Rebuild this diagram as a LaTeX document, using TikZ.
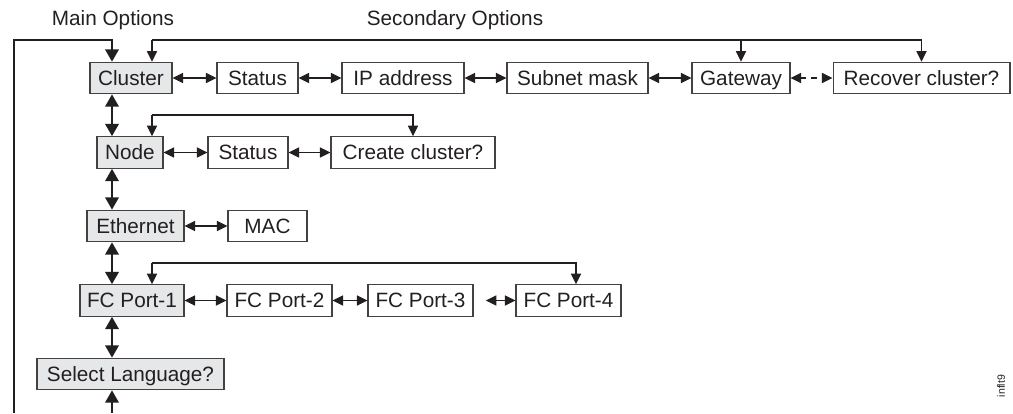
\documentclass[tikz,border=0pt]{standalone}
\usepackage{fontspec}
\setmainfont{Liberation Sans}
\usetikzlibrary{arrows.meta}
\definecolor{ink}{HTML}{231F20}
\definecolor{boxgray}{HTML}{E6E7E8}
\begin{document}
\begin{tikzpicture}[
x=0.02cm, y=-0.02cm,
every node/.style={text=ink, font=\fontsize{11.8}{13}\selectfont},
box/.style={
draw=ink!85,
line width=0.6pt,
minimum height=0.63cm,
text height=8.4pt,
text depth=0pt,
inner sep=0pt
},
mainbox/.style={box, fill=boxgray},
harrow/.style={{Triangle[length=6pt,width=5.8pt]}-{Triangle[length=6pt,width=5.8pt]}, line width=0.6pt, draw=ink},
varrow/.style={{Triangle[length=7pt,width=7.5pt]}-{Triangle[length=7pt,width=7.5pt]}, line width=1.5pt, draw=ink},
link/.style={-{Triangle[length=6pt,width=5.8pt]}, line width=0.6pt, draw=ink},
loop/.style={-{Triangle[length=7pt,width=7.5pt]}, line width=1.5pt, draw=ink}
]
\useasboundingbox (0,0) rectangle (1013,413);
\node (mainlbl) at (113,20) {Main Options};
\node (seclbl) at (455,20) {Secondary Options};
% main options
\node[mainbox,minimum width=1.64cm] (cluster) at (131,78) {Cluster};
\node[mainbox,minimum width=1.32cm] (node) at (130,152.5) {Node};
\node[mainbox,minimum width=1.94cm] (ethernet) at (135.5,226) {Ethernet};
\node[mainbox,minimum width=2.08cm] (fc1) at (132,300.5) {FC Port-1};
\node[mainbox,minimum width=3.74cm] (select) at (130.5,374) {Select Language?};
% secondary options
\node[box,minimum width=1.62cm] (status1) at (257.5,78) {Status};
\node[box,minimum width=2.44cm] (ipaddr) at (403,78) {IP address};
\node[box,minimum width=2.82cm] (subnet) at (577.5,78) {Subnet mask};
\node[box,minimum width=1.96cm] (gateway) at (741,78) {Gateway};
\node[box,minimum width=3.54cm] (recover) at (921.5,78) {Recover cluster?};
\node[box,minimum width=1.60cm] (status2) at (248,152.5) {Status};
\node[box,minimum width=3.28cm] (create) at (413,152.5) {Create cluster?};
\node[box,minimum width=1.58cm] (mac) at (267.5,226) {MAC};
\node[box,minimum width=2.10cm] (fc2) at (279.5,300.5) {FC Port-2};
\node[box,minimum width=2.10cm] (fc3) at (420.5,300.5) {FC Port-3};
\node[box,minimum width=2.10cm] (fc4) at (568.5,300.5) {FC Port-4};
\node[rotate=90,font=\fontsize{6}{7}\selectfont] (tag) at (1001,386) {inflt9};
% helper points
\coordinate (vx) at (112,0);
\coordinate (loopbot) at (14,413);
\coordinate (looptop) at (112,40);
\coordinate (inbot) at (112,413);
\coordinate (sectop) at (152,40);
\coordinate (nodetop) at (152,115);
\coordinate (fctop) at (152,263);
\coordinate (fc4in) at (576,0);
% main column
\draw[loop] (loopbot) |- (looptop) -- (cluster.north -| looptop);
\draw[varrow] (cluster.south -| vx) -- (node.north -| vx);
\draw[varrow] (node.south -| vx) -- (ethernet.north -| vx);
\draw[varrow] (ethernet.south -| vx) -- (fc1.north -| vx);
\draw[varrow] (fc1.south -| vx) -- (select.north -| vx);
\draw[loop] (inbot) -- (select.south -| inbot);
% rows
\draw[harrow] (cluster) -- (status1);
\draw[harrow] (status1) -- (ipaddr);
\draw[harrow] (ipaddr) -- (subnet);
\draw[harrow] (subnet) -- (gateway);
\draw[harrow,dashed] (gateway) -- (recover);
\draw[harrow] (node) -- (status2);
\draw[harrow] (status2) -- (create);
\draw[harrow] (ethernet) -- (mac);
\draw[harrow] (fc1) -- (fc2);
\draw[harrow] (fc2) -- (fc3);
\draw[harrow,shorten <=7pt] (fc3) -- (fc4);
% return lines
\draw[link] (sectop) -- (cluster.north -| sectop);
\draw[link] (sectop) -| (gateway.north);
\draw[link] (sectop) -| (recover.north);
\draw[link] (nodetop) -- (node.north -| nodetop);
\draw[link] (nodetop) -| (create.north);
\draw[link] (fctop) -- (fc1.north -| fctop);
\draw[link] (fctop) -| (fc4.north -| fc4in);
\end{tikzpicture}
\end{document}
